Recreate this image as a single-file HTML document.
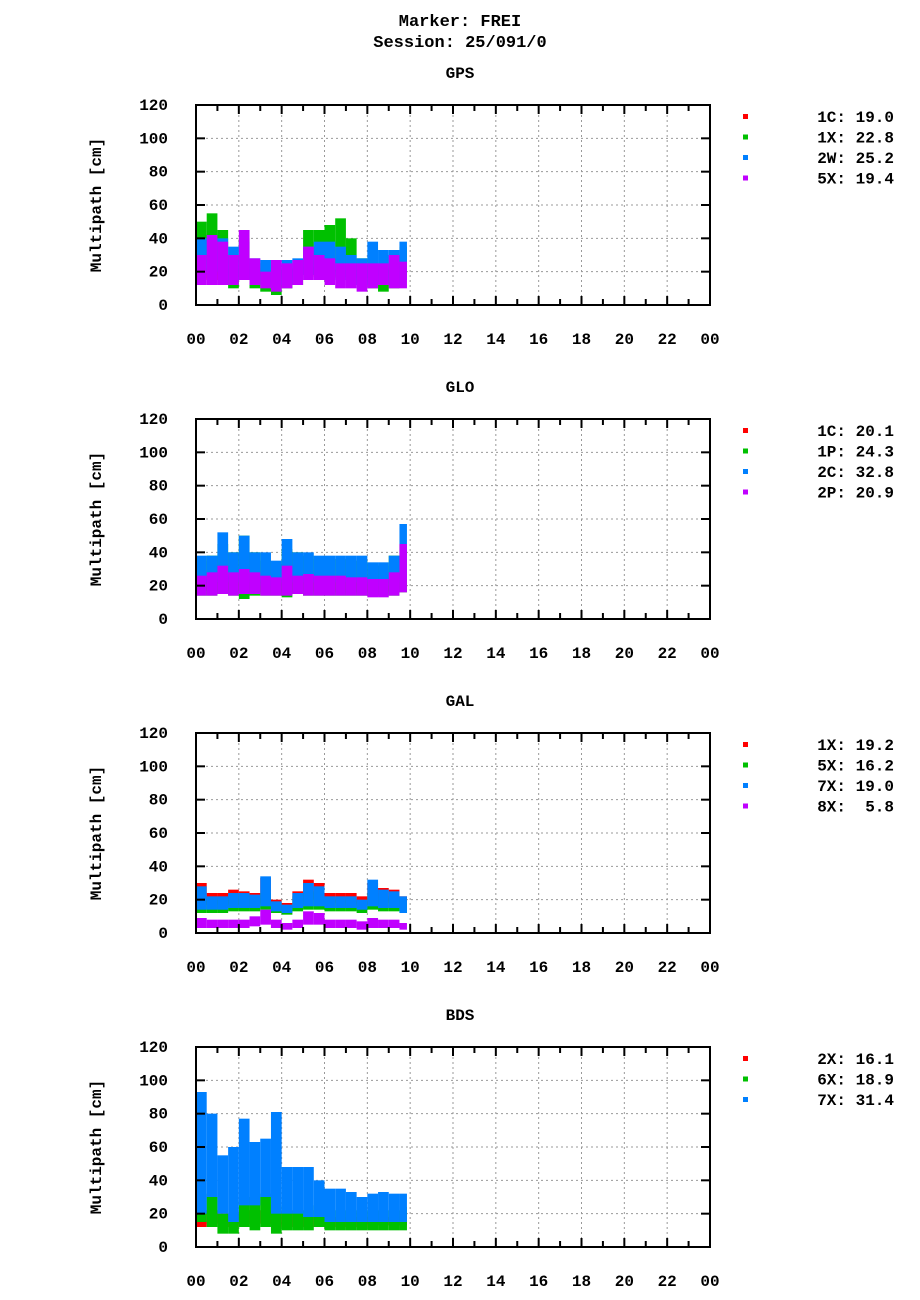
<!DOCTYPE html>
<html><head><meta charset="utf-8"><style>
body{margin:0;background:#fff}
svg{display:block;font-family:"Liberation Mono",monospace;font-weight:bold}
</style></head><body>
<svg id="c" width="920" height="1300" xmlns="http://www.w3.org/2000/svg">
<text x="460" y="26" text-anchor="middle" font-size="17">Marker: FREI</text>
<text x="460" y="47" text-anchor="middle" font-size="17">Session: 25/091/0</text>
</svg>
<script>
// Data: time nodes (hours) and per-series low/high ranges (cm)
const hours = [0,0.5,1,1.5,2,2.5,3,3.5,4,4.5,5,5.5,6,6.5,7,7.5,8,8.5,9,9.5];
const panelNames = ["GPS","GLO","GAL","BDS"];
const xTicks = ["00","02","04","06","08","10","12","14","16","18","20","22","00"];
const yTicks = [0,20,40,60,80,100,120];
const gpsCodes = ["1C","1X","2W","5X"];
const gpsRms = ["19.0","22.8","25.2","19.4"];
const gps1CLo=[16,15,15,17,17,18,17,17,16,17,18,17,16,17,16,16,16,17,16,18];
const gps1CHi=[22,22,21,22,22,22,21,21,21,22,23,22,21,21,21,21,21,22,21,22];
const gps1XLo=[25,20,12,10,15,10,8,6,10,12,18,18,20,20,15,12,10,8,10,15];
const gps1XHi=[50,55,45,30,40,25,20,20,22,25,45,45,48,52,40,28,25,22,30,35];
const gps2WLo=[18,20,18,15,18,15,12,12,12,15,18,18,18,15,12,12,12,15,12,15];
const gps2WHi=[40,40,40,35,38,28,27,25,27,28,35,38,38,35,30,28,38,33,33,38];
const gps5XLo=[12,12,12,12,15,12,10,8,10,12,15,15,12,10,10,8,10,12,10,10];
const gps5XHi=[30,42,38,30,45,28,20,27,25,27,35,30,28,25,25,25,25,25,30,26];
const gloCodes = ["1C","1P","2C","2P"];
const gloRms = ["20.1","24.3","32.8","20.9"];
const glo1CLo=[17,17,18,17,18,16,16,16,16,17,17,16,17,16,16,16,16,16,17,18];
const glo1CHi=[25,24,26,25,26,24,23,23,24,25,25,24,24,24,23,23,23,24,25,27];
const glo1PLo=[14,14,15,14,12,14,14,14,13,15,14,14,14,14,14,14,14,14,14,16];
const glo1PHi=[35,38,45,40,50,40,35,30,42,40,38,36,36,36,35,35,32,32,38,45];
const glo2CLo=[22,22,24,22,22,22,20,20,22,24,22,22,22,22,22,22,20,20,22,24];
const glo2CHi=[38,38,52,40,50,40,40,35,48,40,40,38,38,38,38,38,34,34,38,57];
const glo2PLo=[14,14,15,14,15,15,14,14,14,15,14,14,14,14,14,14,13,13,14,16];
const glo2PHi=[26,28,32,28,30,28,26,25,32,26,27,26,26,26,25,25,24,24,28,45];
const galCodes = ["1X","5X","7X","8X"];
const galRms = ["19.2","16.2","19.0"," 5.8"];
const gal1XLo=[18,17,17,17,18,17,18,16,15,17,20,20,19,18,18,17,20,19,18,16];
const gal1XHi=[30,24,24,26,25,24,33,20,18,25,32,30,24,24,24,22,30,27,26,22];
const gal5XLo=[12,12,12,13,13,13,14,12,11,13,14,14,13,13,13,12,14,13,13,12];
const gal5XHi=[22,20,20,22,22,21,24,18,16,22,25,24,20,20,20,19,24,22,21,18];
const gal7XLo=[14,14,14,15,15,15,16,13,12,15,16,16,15,15,15,14,16,15,15,12];
const gal7XHi=[28,22,22,24,24,23,34,19,17,24,30,28,22,22,22,20,32,26,25,22];
const gal8XLo=[3,3,3,3,3,4,5,3,2,3,5,5,3,3,3,2,3,3,3,2];
const gal8XHi=[9,8,8,8,8,10,14,8,6,8,13,12,8,8,8,7,9,8,8,6];
const bdsCodes = ["2X","6X","7X"];
const bdsRms = ["16.1","18.9","31.4"];
const bds2XLo=[12,14,12,12,14,14,14,13,12,12,12,12,12,12,12,12,13,13,13,13];
const bds2XHi=[22,22,20,20,22,22,22,21,20,18,18,18,18,18,18,18,19,18,18,18];
const bds6XLo=[15,12,8,8,12,10,12,8,10,10,10,12,10,10,10,10,10,10,10,10];
const bds6XHi=[32,30,20,20,28,30,32,25,22,22,22,25,22,22,22,22,22,22,22,24];
const bds7XLo=[20,30,20,15,25,25,30,20,20,20,18,18,15,15,15,15,15,15,15,15];
const bds7XHi=[93,80,55,60,77,63,65,81,48,48,48,40,35,35,33,30,32,33,32,32];

const colors=["#ff0000","#00c000","#0080ff","#c000ff"];
const panels=[
 {codes:gpsCodes,rms:gpsRms,lo:[gps1CLo,gps1XLo,gps2WLo,gps5XLo],hi:[gps1CHi,gps1XHi,gps2WHi,gps5XHi]},
 {codes:gloCodes,rms:gloRms,lo:[glo1CLo,glo1PLo,glo2CLo,glo2PLo],hi:[glo1CHi,glo1PHi,glo2CHi,glo2PHi]},
 {codes:galCodes,rms:galRms,lo:[gal1XLo,gal5XLo,gal7XLo,gal8XLo],hi:[gal1XHi,gal5XHi,gal7XHi,gal8XHi]},
 {codes:bdsCodes,rms:bdsRms,lo:[bds2XLo,bds6XLo,bds7XLo],hi:[bds2XHi,bds6XHi,bds7XHi]}
];
const NS="http://www.w3.org/2000/svg";
const svg=document.getElementById('c');
function mk(tag,attrs,parent){const e=document.createElementNS(NS,tag);for(const k in attrs)e.setAttribute(k,attrs[k]);(parent||svg).appendChild(e);return e;}
const X0=196,X1=710,H=200;
panels.forEach((p,pi)=>{
 const top=105+pi*314, bot=top+H;
 const xs=h=>X0+(X1-X0)*h/24;
 const ys=v=>bot-H*v/120;
 const g=mk('g',{});
 
 
 const t=mk('text',{x:460,y:top-27,'text-anchor':'middle','font-size':16},g);
 t.textContent=panelNames[pi];
 
 
 // grid
 for(let i=1;i<12;i++){const l=mk('line',{x1:xs(i*2),x2:xs(i*2),y1:top,y2:bot,stroke:'#999','stroke-dasharray':'2,3','stroke-width':1},g);
  
  }
 yTicks.forEach(v=>{if(v>0&&v<120){const l=mk('line',{x1:X0,x2:X1,y1:ys(v),y2:ys(v),stroke:'#999','stroke-dasharray':'2,3','stroke-width':1},g);
  
  }});
 // data
 p.lo.forEach((lo,si)=>{
  const sg=mk('g',{fill:colors[si]},g);
  
  
  hours.forEach((h,k)=>{
   const w=(k<hours.length-1?hours[k+1]:9.85)-h;
   const r=mk('rect',{x:xs(h),y:ys(p.hi[si][k]),width:xs(h+w)-xs(h),height:ys(lo[k])-ys(p.hi[si][k])},sg);
   
   
  });
 });
 // axes frame
 const f=mk('rect',{x:X0,y:top,width:X1-X0,height:H,fill:'none',stroke:'#000','stroke-width':2},g);
 
 
 for(let h=0;h<=24;h++){const len=h%2?6:9;
  mk('line',{x1:xs(h),x2:xs(h),y1:bot,y2:bot-len,stroke:'#000','stroke-width':2},g);
  mk('line',{x1:xs(h),x2:xs(h),y1:top,y2:top+len,stroke:'#000','stroke-width':2},g);}
 xTicks.forEach((s,i)=>{const tx=mk('text',{x:xs(i*2),y:bot+39,'text-anchor':'middle','font-size':16},g);tx.textContent=s;
  
  });
 yTicks.forEach(v=>{
  mk('line',{x1:X0,x2:X0+9,y1:ys(v),y2:ys(v),stroke:'#000','stroke-width':2},g);
  mk('line',{x1:X1,x2:X1-9,y1:ys(v),y2:ys(v),stroke:'#000','stroke-width':2},g);
  const ty=mk('text',{x:X0-28,y:ys(v)+5,'text-anchor':'end','font-size':16},g);ty.textContent=v;
  
  });
 const yl=mk('text',{x:0,y:0,'text-anchor':'middle','font-size':16,transform:`translate(101,${top+H/2}) rotate(-90)`},g);
 yl.textContent='Multipath [cm]';
 
 
 // legend
 p.codes.forEach((c,si)=>{
  const ly=top+12+si*20.5;
  const lg=mk('g',{},g);
  
  
  mk('rect',{x:743,y:ly-3,width:5,height:5,fill:colors[si]},lg);
  const lt=mk('text',{x:894,y:ly+5,'text-anchor':'end','font-size':16,'xml:space':'preserve'},lg);
  lt.textContent=c+': '+(p.rms[si].length<4?' ':'')+p.rms[si];
  lt.style.whiteSpace='pre';
 });
});
</script>
</body></html>
